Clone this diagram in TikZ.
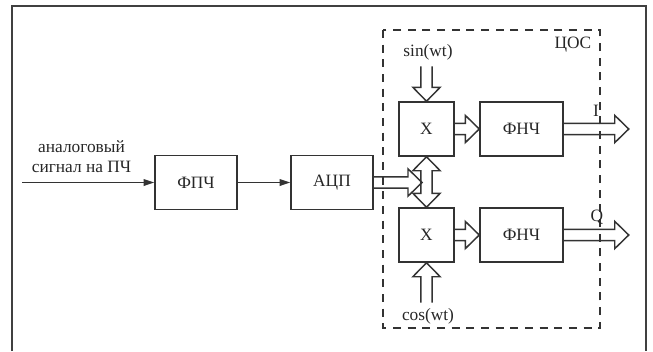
\documentclass[tikz,border=0pt]{standalone}
\usepackage{fontspec}
\setmainfont{Liberation Serif}
\usetikzlibrary{arrows.meta,positioning,calc}

\def\shafthw{4.25pt}
\def\headhw{10.25pt}
\def\headlen{10.5pt}

% hollow (outline) arrow from #1 to #2
\newcommand{\hollowarrow}[2]{%
  \coordinate (ha) at ($(#2)!\headlen!(#1)$);
  \draw[hollow] ($(#1)!\shafthw!90:(#2)$) -- ($(ha)!\shafthw!90:(#2)$)
    -- ($(ha)!\headhw!90:(#2)$) -- (#2) -- ($(ha)!\headhw!-90:(#2)$)
    -- ($(ha)!\shafthw!-90:(#2)$) -- ($(#1)!\shafthw!-90:(#2)$);
}
% hollow arrow with two heads
\newcommand{\hollowdarrow}[2]{%
  \coordinate (hb) at ($(#1)!\headlen!(#2)$);
  \coordinate (he) at ($(#2)!\headlen!(#1)$);
  \draw[hollow] (#1) -- ($(hb)!\headhw!-90:(#2)$) -- ($(hb)!\shafthw!-90:(#2)$)
    -- ($(he)!\shafthw!-90:(#2)$) -- ($(he)!\headhw!-90:(#2)$) -- (#2)
    -- ($(he)!\headhw!90:(#2)$) -- ($(he)!\shafthw!90:(#2)$)
    -- ($(hb)!\shafthw!90:(#2)$) -- ($(hb)!\headhw!90:(#2)$) -- cycle;
}

\begin{document}
\begin{tikzpicture}[x=0.75pt,y=-0.75pt,
    every node/.style={font=\fontsize{13}{15}\selectfont, text=black!85},
    blk/.style={draw=black!80, line width=1.1pt, minimum height=40.5pt, inner sep=0pt},
    hollow/.style={draw=black!80, line width=1.1pt, line join=miter},
    thinarr/.style={draw=black!80, line width=1.1pt, -{Triangle[length=8pt,width=5pt]}}]
    \useasboundingbox (0,0) rectangle (653,351);

    % outer frame
    \draw[black!75, line width=1.6pt] (12,351) -- (12,6) -- (646,6) -- (646,351);

    % input part
    \node[align=center] (lbl) at (81.5,157) {аналоговый\\сигнал на ПЧ};
    \coordinate (in) at (22,182.5);
    \node[blk, minimum width=61.5pt] (fpch) at (196,182.5) {ФПЧ};
    \node[blk, minimum width=61.5pt] (adc) at (332,182.5) {АЦП};
    \draw[thinarr] (in) -- (fpch);
    \draw[thinarr] (fpch) -- (adc);

    % DSP block
    \draw[black!80, line width=1.1pt, dash pattern=on 6pt off 5pt] (383,30) rectangle (600,328);
    \node (dsp) at (573,45) {ЦОС};

    \node[blk, minimum width=41.25pt] (x1) at (426.5,129) {X};
    \node[blk, minimum width=41.25pt] (x2) at (426.5,235) {X};
    \node[blk, minimum width=62.25pt] (f1) at (521.5,129) {ФНЧ};
    \node[blk, minimum width=62.25pt] (f2) at (521.5,235) {ФНЧ};

    \coordinate (sinin) at ([yshift=26.25pt]x1.north);
    \coordinate (cosin) at ([yshift=-30pt]x2.south);
    \node (sinlbl) at (428,52) {sin(wt)};
    \node (coslbl) at (428,316) {cos(wt)};
    \hollowarrow{sinin}{x1.north}
    \hollowarrow{cosin}{x2.south}

    \hollowdarrow{x1.south}{x2.north}
    \coordinate (adcend) at (422,182.5);
    \hollowarrow{adc.east}{adcend}

    \hollowarrow{x1.east}{f1.west}
    \hollowarrow{x2.east}{f2.west}

    \coordinate (iout) at ([xshift=48.75pt]f1.east);
    \coordinate (qout) at ([xshift=48.75pt]f2.east);
    \hollowarrow{f1.east}{iout}
    \hollowarrow{f2.east}{qout}
    \node (ilbl) at (596,111) {I};
    \node (qlbl) at (597,217) {Q};
\end{tikzpicture}
\end{document}
